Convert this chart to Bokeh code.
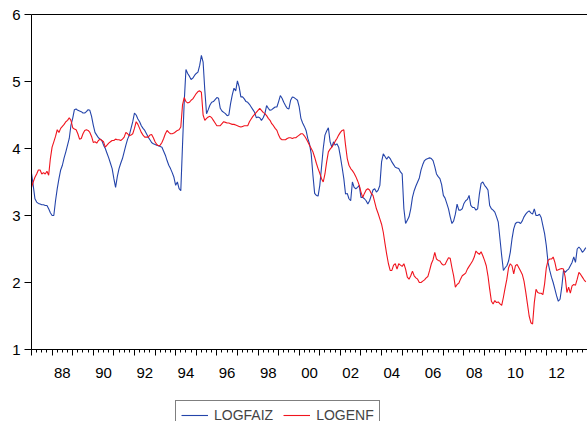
from bokeh.plotting import figure
from bokeh.layouts import column
from bokeh.models import (Range1d, LinearAxis, FixedTicker, Legend, LegendItem,
                          ColumnDataSource, CustomLabelingPolicy)
from bokeh.embed import file_html
from bokeh.resources import INLINE

start_year = 1987
end_year = 2014

logfaiz = [
    3.63, 3.45, 3.25, 3.20, 3.18, 3.17, 3.16, 3.16, 3.15, 3.15, 3.10, 3.04,  # 1987
    3.00, 3.00, 3.22, 3.40, 3.55, 3.68, 3.75, 3.86, 3.95, 4.05, 4.15, 4.35,  # 1988
    4.45, 4.58, 4.59, 4.57, 4.56, 4.55, 4.53, 4.53, 4.55, 4.58, 4.57, 4.48,  # 1989
    4.35, 4.24, 4.20, 4.16, 4.14, 4.12, 4.05, 4.00, 3.93, 3.86, 3.78, 3.70,  # 1990
    3.55, 3.42, 3.58, 3.70, 3.78, 3.85, 3.95, 4.05, 4.14, 4.20, 4.30, 4.40,  # 1991
    4.53, 4.50, 4.44, 4.40, 4.34, 4.30, 4.27, 4.22, 4.17, 4.13, 4.09, 4.07,  # 1992
    4.06, 4.05, 4.04, 4.03, 4.02, 3.96, 3.90, 3.82, 3.75, 3.70, 3.64, 3.57,  # 1993
    3.45, 3.50, 3.40, 3.37, 4.05, 4.70, 5.18, 5.12, 5.08, 5.03, 5.05, 5.09,  # 1994
    5.12, 5.14, 5.24, 5.39, 5.29, 4.87, 4.52, 4.58, 4.65, 4.69, 4.70, 4.73,  # 1995
    4.76, 4.75, 4.60, 4.56, 4.54, 4.52, 4.49, 4.50, 4.67, 4.80, 4.90, 4.86,  # 1996
    5.01, 4.92, 4.77, 4.77, 4.74, 4.70, 4.69, 4.66, 4.62, 4.58, 4.54, 4.46,  # 1997
    4.47, 4.46, 4.42, 4.46, 4.52, 4.64, 4.60, 4.57, 4.58, 4.60, 4.62, 4.62,  # 1998
    4.70, 4.79, 4.75, 4.69, 4.64, 4.60, 4.59, 4.72, 4.77, 4.76, 4.74, 4.72,  # 1999
    4.62, 4.45, 4.38, 4.33, 4.27, 4.15, 4.07, 3.92, 3.60, 3.33, 3.30, 3.29,  # 2000
    3.45, 3.72, 4.00, 4.20, 4.26, 4.31, 4.10, 4.02, 4.10, 4.05, 4.07, 4.02,  # 2001
    3.88, 3.72, 3.55, 3.32, 3.33, 3.25, 3.22, 3.50, 3.42, 3.40, 3.42, 3.45,  # 2002
    3.27, 3.27, 3.25, 3.22, 3.17, 3.22, 3.30, 3.38, 3.40, 3.35, 3.38, 3.45,  # 2003
    3.80, 3.92, 3.88, 3.84, 3.88, 3.85, 3.80, 3.76, 3.72, 3.71, 3.70, 3.65,  # 2004
    3.62, 3.10, 2.88, 2.93, 2.98, 3.10, 3.27, 3.37, 3.44, 3.50, 3.56, 3.68,  # 2005
    3.76, 3.82, 3.84, 3.85, 3.86, 3.85, 3.82, 3.73, 3.62, 3.58, 3.55, 3.46,  # 2006
    3.30, 3.26, 3.18, 3.10, 2.98, 2.88, 2.92, 3.02, 3.17, 3.08, 3.08, 3.10,  # 2007
    3.18, 3.22, 3.24, 3.30, 3.15, 3.12, 3.12, 3.08, 3.10, 3.32, 3.48, 3.50,  # 2008
    3.45, 3.42, 3.38, 3.15, 3.10, 3.08, 3.05, 2.98, 2.90, 2.65, 2.40, 2.18,  # 2009
    2.22, 2.25, 2.32, 2.45, 2.65, 2.80, 2.88, 2.90, 2.90, 2.88, 2.92, 2.98,  # 2010
    3.02, 3.05, 3.07, 3.04, 3.02, 3.10, 3.00, 3.00, 3.02, 2.97, 2.85, 2.73,  # 2011
    2.55, 2.30, 2.18, 2.08, 2.00, 1.90, 1.80, 1.72, 1.75, 1.93, 2.18, 2.15,  # 2012
    2.18, 2.20, 2.25, 2.30, 2.38, 2.30, 2.50, 2.53, 2.50, 2.45, 2.48, 2.52,  # 2013
]

logenf = [
    3.42, 3.50, 3.57, 3.62, 3.68, 3.68, 3.62, 3.64, 3.62, 3.66, 3.60, 3.85,  # 1987
    4.02, 4.10, 4.18, 4.28, 4.24, 4.30, 4.33, 4.36, 4.40, 4.42, 4.46, 4.42,  # 1988
    4.31, 4.29, 4.28, 4.22, 4.14, 4.15, 4.22, 4.27, 4.28, 4.27, 4.24, 4.18,  # 1989
    4.09, 4.10, 4.08, 4.12, 4.14, 4.12, 4.10, 4.02, 4.05, 4.08, 4.10, 4.12,  # 1990
    4.12, 4.14, 4.13, 4.13, 4.12, 4.14, 4.17, 4.24, 4.22, 4.19, 4.20, 4.22,  # 1991
    4.30, 4.40, 4.36, 4.30, 4.24, 4.20, 4.17, 4.17, 4.17, 4.20, 4.21, 4.16,  # 1992
    4.10, 4.06, 4.04, 4.05, 4.09, 4.15, 4.22, 4.27, 4.24, 4.22, 4.22, 4.23,  # 1993
    4.25, 4.27, 4.28, 4.32, 4.65, 4.76, 4.70, 4.68, 4.69, 4.72, 4.74, 4.78,  # 1994
    4.82, 4.85, 4.86, 4.84, 4.50, 4.42, 4.45, 4.47, 4.48, 4.46, 4.42, 4.38,  # 1995
    4.34, 4.34, 4.34, 4.37, 4.40, 4.39, 4.38, 4.38, 4.37, 4.36, 4.36, 4.35,  # 1996
    4.34, 4.33, 4.32, 4.33, 4.34, 4.34, 4.34, 4.40, 4.44, 4.48, 4.51, 4.54,  # 1997
    4.57, 4.60, 4.57, 4.54, 4.52, 4.49, 4.45, 4.42, 4.37, 4.34, 4.30, 4.27,  # 1998
    4.20, 4.15, 4.13, 4.13, 4.13, 4.15, 4.16, 4.16, 4.15, 4.16, 4.16, 4.18,  # 1999
    4.20, 4.22, 4.22, 4.19, 4.15, 4.10, 4.05, 4.00, 3.95, 3.87, 3.78, 3.70,  # 2000
    3.63, 3.55, 3.50, 3.62, 3.80, 3.95, 3.99, 4.02, 4.06, 4.11, 4.15, 4.20,  # 2001
    4.24, 4.27, 4.28, 4.05, 3.85, 3.75, 3.70, 3.67, 3.63, 3.58, 3.52, 3.45,  # 2002
    3.35, 3.27, 3.33, 3.38, 3.40, 3.38, 3.33, 3.30, 3.20, 3.10, 3.03, 2.95,  # 2003
    2.87, 2.75, 2.58, 2.42, 2.28, 2.18, 2.18, 2.26, 2.28, 2.20, 2.28, 2.26,  # 2004
    2.24, 2.28, 2.20, 2.08, 2.05, 2.10, 2.17, 2.10, 2.07, 2.05, 2.00, 2.00,  # 2005
    2.02, 2.04, 2.07, 2.09, 2.18, 2.28, 2.34, 2.45, 2.35, 2.33, 2.32, 2.28,  # 2006
    2.26, 2.27, 2.32, 2.37, 2.36, 2.22, 2.10, 1.93, 1.97, 1.99, 2.05, 2.10,  # 2007
    2.12, 2.14, 2.20, 2.24, 2.28, 2.32, 2.38, 2.47, 2.44, 2.42, 2.46, 2.40,  # 2008
    2.33, 2.25, 2.10, 1.90, 1.72, 1.68, 1.73, 1.70, 1.71, 1.68, 1.66, 1.78,  # 2009
    1.92, 2.05, 2.22, 2.28, 2.25, 2.13, 2.25, 2.27, 2.22, 2.17, 2.12, 2.02,  # 2010
    1.86, 1.68, 1.50, 1.40, 1.38, 1.70, 1.90, 1.85, 1.84, 1.84, 1.82, 1.98,  # 2011
    2.22, 2.33, 2.35, 2.35, 2.38, 2.30, 2.18, 2.19, 2.20, 2.21, 2.20, 2.08,  # 2012
    1.85, 1.93, 1.84, 1.95, 1.97, 1.96, 2.05, 2.15, 2.12, 2.08, 2.04, 2.01,  # 2013
]

y_ticks = [1, 2, 3, 4, 5, 6]
x_label_years = [1988, 1990, 1992, 1994, 1996, 1998, 2000, 2002, 2004, 2006, 2008, 2010, 2012]
x_labels = ["88", "90", "92", "94", "96", "98", "00", "02", "04", "06", "08", "10", "12"]
series_names = ["LOGFAIZ", "LOGENF"]
series_colors = ["#2444AA", "#F0141E"]

FONT = "Liberation Sans"

t = [start_year + i / 12.0 for i in range(len(logfaiz))]
src = ColumnDataSource(data=dict(t=t, faiz=logfaiz, enf=logenf))

# ---------------- main chart ----------------
p = figure(width=587, height=399, output_backend="svg", toolbar_location=None,
           x_range=Range1d(start_year, end_year), y_range=Range1d(1, 6),
           x_axis_type=None, y_axis_type=None,
           min_border_left=31, min_border_right=0, min_border_top=14, min_border_bottom=50)
p.outline_line_color = None
p.background_fill_color = "white"
p.border_fill_color = "white"

r1 = p.line("t", "faiz", source=src, line_color=series_colors[0], line_width=1.1)
r2 = p.line("t", "enf", source=src, line_color=series_colors[1], line_width=1.1)

yaxis = LinearAxis(ticker=FixedTicker(ticks=y_ticks, minor_ticks=[]),
                   major_tick_out=7, major_tick_in=0,
                   minor_tick_line_color=None,
                   axis_line_color="black", major_tick_line_color="black",
                   major_label_text_font=FONT, major_label_text_font_size="15px",
                   major_label_text_color="black", major_label_standoff=4)
p.add_layout(yaxis, "left")

top_axis = LinearAxis(ticker=FixedTicker(ticks=[], minor_ticks=[]),
                      major_tick_out=0, major_tick_in=0, minor_tick_out=0, minor_tick_in=0,
                      major_label_text_font_size="1px", major_label_standoff=0,
                      axis_line_color="black")
p.add_layout(top_axis, "above")

no_labels = CustomLabelingPolicy(code="for (const i of indices) { if (i < 0) { yield i } }")

years = list(range(start_year, end_year + 1))
quarters = [y + q / 4.0 for y in range(start_year, end_year) for q in range(4)]
xaxis_ticks = LinearAxis(ticker=FixedTicker(ticks=years, minor_ticks=quarters),
                         major_tick_out=6, major_tick_in=0, minor_tick_out=3, minor_tick_in=0,
                         axis_line_color="black", major_tick_line_color="black",
                         minor_tick_line_color="black",
                         major_label_policy=no_labels,
                         major_label_text_font_size="1px", major_label_standoff=0)
p.add_layout(xaxis_ticks, "below")

label_pos = [y + 0.5 for y in x_label_years]
xaxis_labels = LinearAxis(ticker=FixedTicker(ticks=label_pos, minor_ticks=[]),
                          major_label_overrides={pos: lab for pos, lab in zip(label_pos, x_labels)},
                          axis_line_color=None, major_tick_line_color=None,
                          minor_tick_line_color=None,
                          major_tick_out=0, major_tick_in=0,
                          major_label_text_font=FONT, major_label_text_font_size="15px",
                          major_label_text_color="black", major_label_standoff=8)
p.add_layout(xaxis_labels, "below")

# ---------------- legend strip (cropped at the bottom edge, like the reference) ----------------
# same series, drawn out of this strip's view, only so that the legend has real renderers
pl = figure(width=587, height=22, output_backend="svg", toolbar_location=None,
            x_range=Range1d(start_year, end_year), y_range=Range1d(100, 101),
            x_axis_type=None, y_axis_type=None, min_border=0)
pl.outline_line_color = None
pl.background_fill_color = "white"
pl.border_fill_color = "white"
k1 = pl.line("t", "faiz", source=src, line_color=series_colors[0], line_width=1.1)
k2 = pl.line("t", "enf", source=src, line_color=series_colors[1], line_width=1.1)

legend = Legend(items=[LegendItem(label=series_names[0], renderers=[k1]),
                       LegendItem(label=series_names[1], renderers=[k2])],
                orientation="horizontal", location=(144, -8),
                label_text_font=FONT, label_text_font_size="14px",
                glyph_width=27, glyph_height=14, label_height=17, label_standoff=6, spacing=10,
                padding=5, margin=0, border_line_color="black", border_line_width=1,
                background_fill_color="white", background_fill_alpha=1.0)
pl.add_layout(legend)

layout = column(p, pl, spacing=0)
open("out.html", "w").write(file_html(layout, INLINE))
